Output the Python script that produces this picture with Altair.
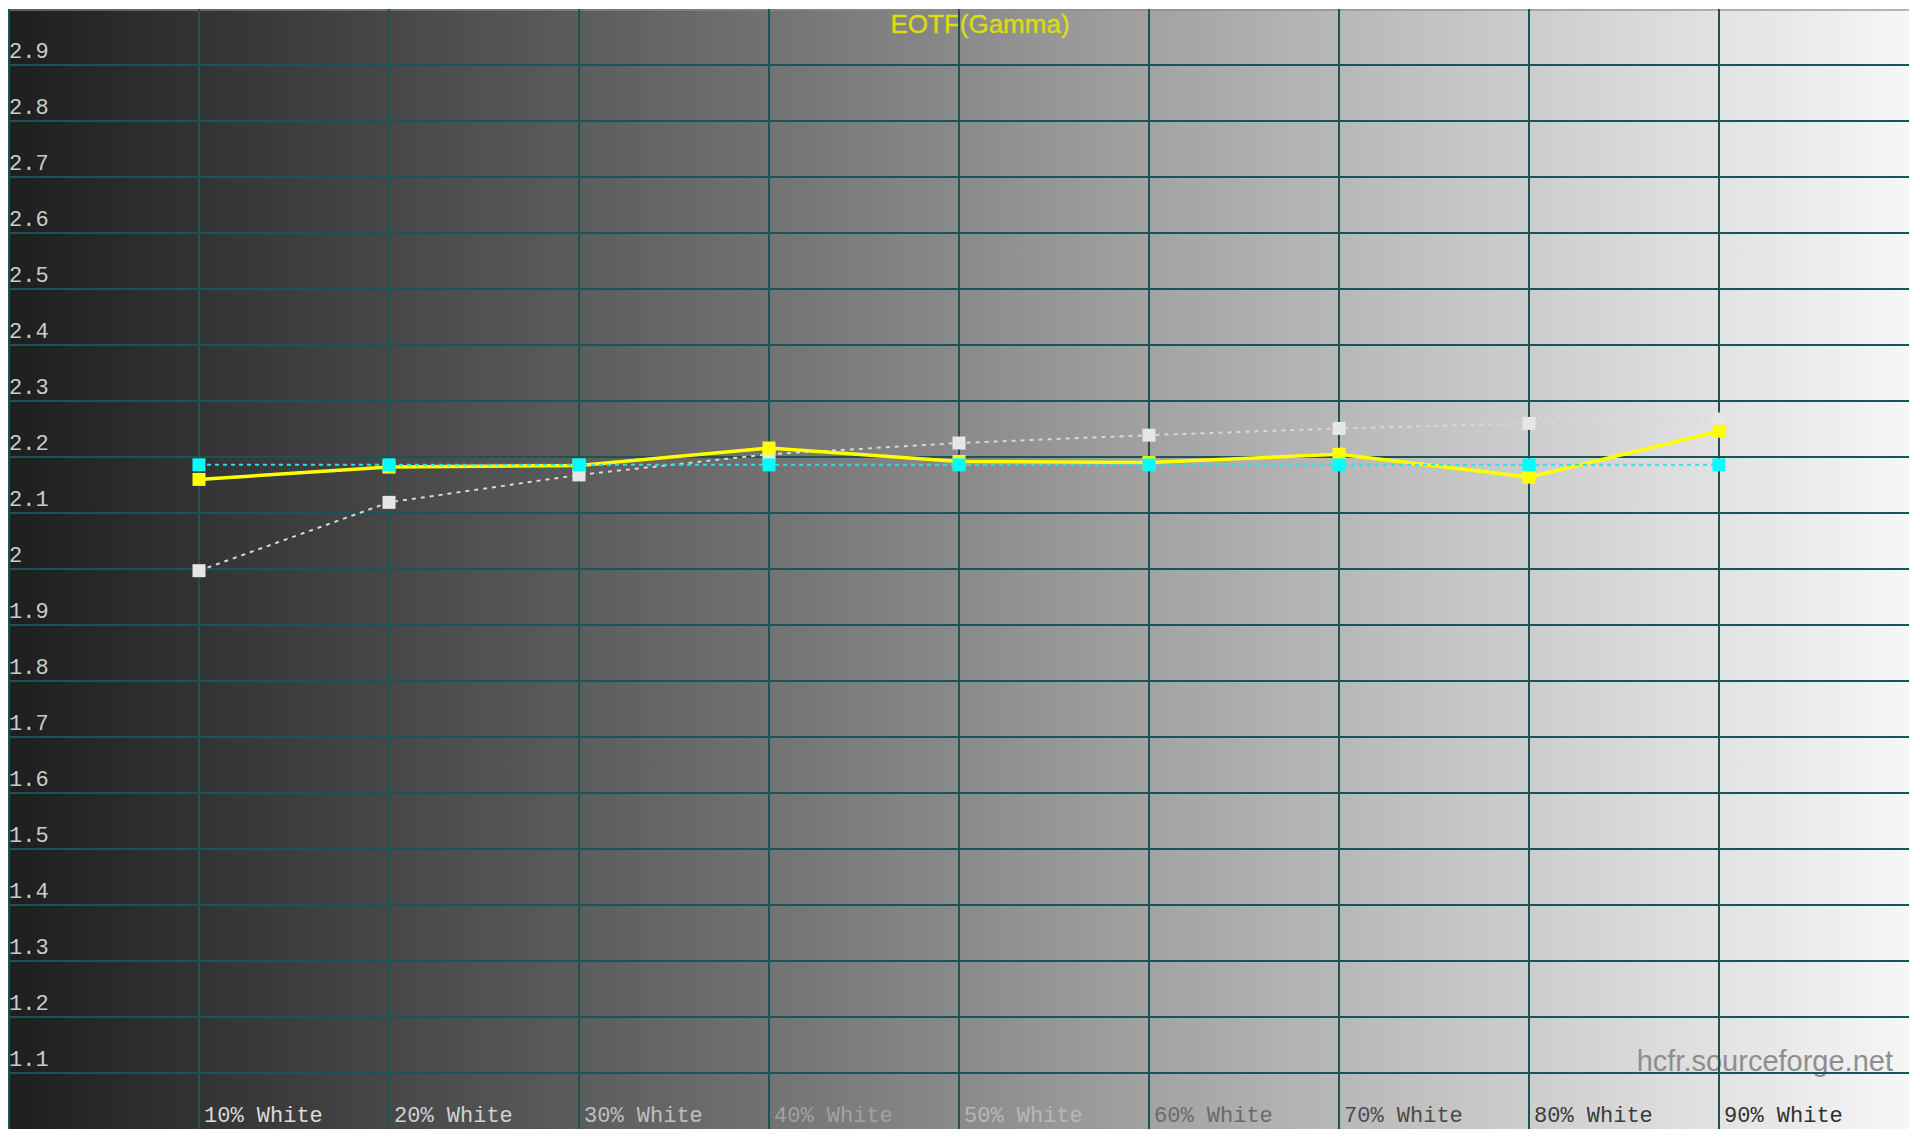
import altair as alt
import pandas as pd

# ---- data ----
levels = [10, 20, 30, 40, 50, 60, 70, 80, 90]
categories = ["10% White", "20% White", "30% White", "40% White", "50% White",
              "60% White", "70% White", "80% White", "90% White"]
measured = [2.160, 2.182, 2.185, 2.216, 2.192, 2.190, 2.205, 2.164, 2.246]     # yellow
target = [2.186, 2.186, 2.186, 2.186, 2.186, 2.186, 2.186, 2.186, 2.186]       # cyan
reference = [1.997, 2.119, 2.168, 2.205, 2.225, 2.239, 2.251, 2.260, 2.268]    # grey

y_ticks = [1.1, 1.2, 1.3, 1.4, 1.5, 1.6, 1.7, 1.8, 1.9, 2.0,
           2.1, 2.2, 2.3, 2.4, 2.5, 2.6, 2.7, 2.8, 2.9]
y_tick_labels = ["1.1", "1.2", "1.3", "1.4", "1.5", "1.6", "1.7", "1.8", "1.9", "2",
                 "2.1", "2.2", "2.3", "2.4", "2.5", "2.6", "2.7", "2.8", "2.9"]
x_grid = [0, 10, 20, 30, 40, 50, 60, 70, 80, 90]

title_text = "EOTF(Gamma)"
watermark_text = "hcfr.sourceforge.net"

# ---- styles ----
W, H = 1900, 1120
GRID = "#1f5252"
label_colors = ["#dcdcdc", "#d2d2d2", "#c0c0c0", "#a2a2a2", "#b8b8b8",
                "#6a6a6a", "#4a4a4a", "#3a3a3a", "#303030"]
bg_stops = ["#1e1e1e", "#333333", "#474747", "#5c5c5c", "#727272", "#8a8a8a",
            "#a2a2a2", "#b8b8b8", "#cdcdcd", "#e2e2e2", "#f6f6f6"]

xs = alt.Scale(domain=[0, 100], nice=False, zero=False)
ys = alt.Scale(domain=[1.0, 3.0], nice=False, zero=False)

series = pd.DataFrame({
    "level": levels,
    "label": categories,
    "measured": measured,
    "target": target,
    "reference": reference,
})

gradient = alt.LinearGradient(
    gradient="linear",
    stops=[alt.GradientStop(offset=i / (len(bg_stops) - 1), color=c) for i, c in enumerate(bg_stops)],
    x1=0, x2=1, y1=0, y2=0,
)

background = alt.Chart(pd.DataFrame({"k": [0]})).mark_rect(color=gradient).encode(
    x=alt.value(0), x2=alt.value(W), y=alt.value(0), y2=alt.value(H)
)
top_border = alt.Chart(pd.DataFrame({"k": [0]})).mark_rule(color="#8a8a8a", strokeWidth=2, opacity=0.6).encode(
    x=alt.value(0), x2=alt.value(W), y=alt.value(1)
)

watermark = alt.Chart(pd.DataFrame({"t": [watermark_text]})).mark_text(
    align="right", baseline="alphabetic", font="Liberation Sans", fontSize=29, color="#8e8e8e"
).encode(x=alt.value(1884), y=alt.value(1062), text="t:N")

title = alt.Chart(pd.DataFrame({"t": [title_text]})).mark_text(
    align="center", baseline="alphabetic", font="Liberation Sans", fontSize=26, color="#dcdc10",
    stroke="#dcdc10", strokeWidth=0.4
).encode(x=alt.value(971), y=alt.value(24), text="t:N")

vgrid = alt.Chart(pd.DataFrame({"x": x_grid})).mark_rule(color=GRID, strokeWidth=2).encode(
    x=alt.X("x:Q", scale=xs, axis=None)
)
hgrid = alt.Chart(pd.DataFrame({"y": y_ticks})).mark_rule(color=GRID, strokeWidth=2).encode(
    y=alt.Y("y:Q", scale=ys, axis=None)
)

base = alt.Chart(series).encode(x=alt.X("level:Q", scale=xs, axis=None))

ref_line = base.mark_line(color="#d8d8d8", strokeWidth=2, strokeDash=[4, 5]).encode(
    y=alt.Y("reference:Q", scale=ys, axis=None))
ref_pts = base.mark_square(size=169, color="#e6e6e6", opacity=1).encode(
    y=alt.Y("reference:Q", scale=ys, axis=None))

meas_line = base.mark_line(color="#ffff00", strokeWidth=3.5).encode(
    y=alt.Y("measured:Q", scale=ys, axis=None))
meas_pts = base.mark_square(size=169, color="#ffff00", opacity=1).encode(
    y=alt.Y("measured:Q", scale=ys, axis=None))

tgt_line = base.mark_line(color="#22e6e6", strokeWidth=2, strokeDash=[4, 4]).encode(
    y=alt.Y("target:Q", scale=ys, axis=None))
tgt_pts = base.mark_square(size=169, color="#00ffff", opacity=1).encode(
    y=alt.Y("target:Q", scale=ys, axis=None))

ylabels = alt.Chart(pd.DataFrame({"v": y_ticks, "t": y_tick_labels})).mark_text(
    align="left", baseline="alphabetic", dx=0, dy=-7, font="Liberation Mono", fontSize=22, color="#cccccc"
).encode(x=alt.value(0), y=alt.Y("v:Q", scale=ys, axis=None), text="t:N")

xlabels = base.mark_text(
    align="left", baseline="alphabetic", dx=5, font="Liberation Mono", fontSize=22
).encode(
    y=alt.value(H - 7),
    text="label:N",
    color=alt.Color("label:N", scale=alt.Scale(domain=categories, range=label_colors), legend=None),
)

chart = alt.layer(
    background, top_border, watermark, title, vgrid, hgrid,
    ref_line, ref_pts, meas_line, meas_pts, tgt_line, tgt_pts,
    ylabels, xlabels,
).properties(width=W, height=H, padding=0).configure_view(stroke=None)

chart.save("out.html", embed_options={"renderer": "svg", "actions": False})
